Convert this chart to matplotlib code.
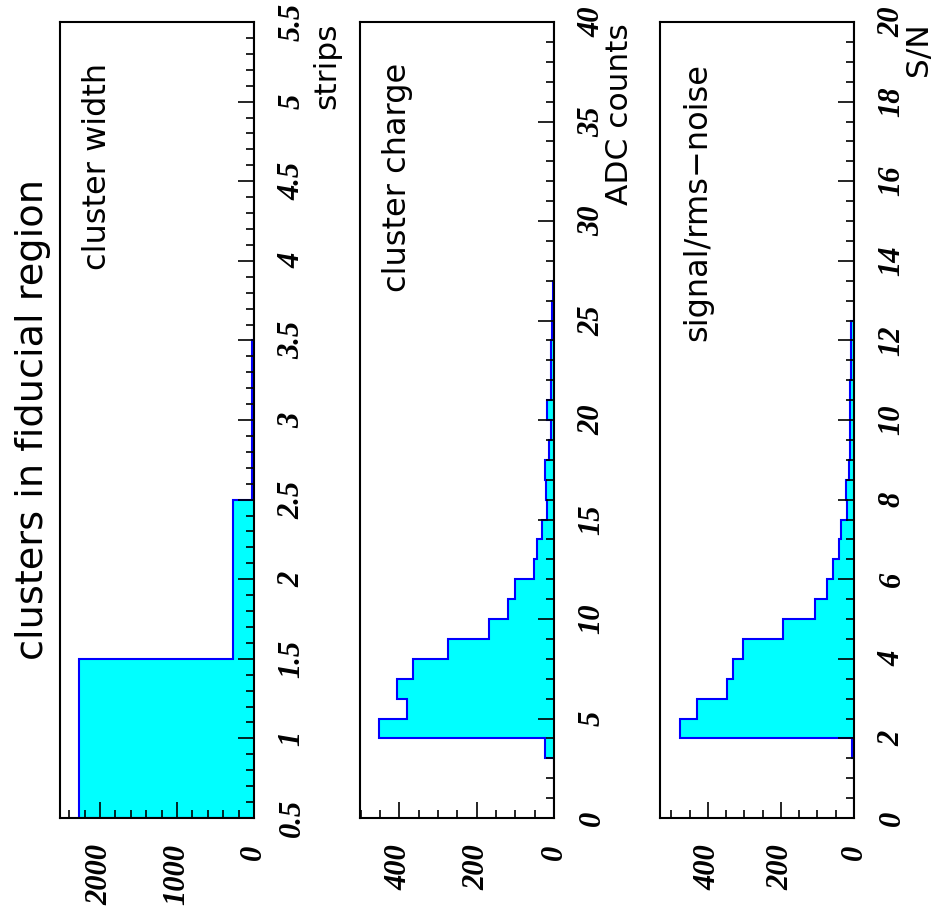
import numpy as np
import matplotlib.pyplot as plt
from matplotlib.ticker import MultipleLocator, FuncFormatter

# cluster width histogram (strips)
width_edges = [0.5, 1.5, 2.5, 3.5, 4.5, 5.5]
width_counts = [2270, 277, 20, 0, 0]

# cluster charge histogram (ADC counts), bins of 1 from 0 to 40
charge_counts = [0, 0, 1, 23, 452, 381, 407, 365, 275, 167,
                 120, 102, 51, 45, 30, 19, 21, 24, 12, 7,
                 17, 7, 7, 7, 4, 4, 2, 1, 1, 1,
                 1, 1, 1, 1, 1, 1, 0, 0, 0, 0]
charge_edges = np.arange(0, 40.5, 1)

# signal / rms-noise histogram, bins of 0.5 from 0 to 20
sn_counts = [0, 0, 0, 5, 477, 430, 349, 331, 305, 194,
             106, 75, 57, 40, 35, 20, 23, 14, 10, 10,
             10, 10, 7, 7, 8, 1, 1, 1, 1, 1,
             1, 1, 1, 1, 0, 0, 0, 0, 0, 0]
sn_edges = np.arange(0, 20.25, 0.5)

plt.rcParams['font.family'] = 'Liberation Serif'
plt.rcParams['font.style'] = 'italic'
plt.rcParams['font.weight'] = 'bold'

sans = dict(family='DejaVu Sans', style='normal', weight='normal')

fig = plt.figure(figsize=(9.37, 9.22), dpi=100)


def panel(left, edges, counts, cmax, cmaj, cmin, bmaj, bmin, title, xlabel, xlab_pos):
    ax = fig.add_axes([left, 0.1128, 0.2070, 0.8633])
    ax.stairs(counts, edges, orientation='horizontal', fill=True,
              facecolor='#00ffff', edgecolor='#0000ff', linewidth=1.5)
    ax.set_xlim(cmax, 0)
    ax.set_ylim(edges[0], edges[-1])

    ax.xaxis.set_major_locator(MultipleLocator(cmaj))
    ax.xaxis.set_minor_locator(MultipleLocator(cmin))
    ax.yaxis.set_major_locator(MultipleLocator(bmaj))
    ax.yaxis.set_minor_locator(MultipleLocator(bmin))
    fmt = FuncFormatter(lambda v, p: '%g' % v)
    ax.xaxis.set_major_formatter(fmt)
    ax.yaxis.set_major_formatter(fmt)

    ax.yaxis.tick_right()
    ax.tick_params(axis='y', which='both', direction='in', right=True, left=False,
                   labelright=True, labelleft=False, pad=17, labelsize=22,
                   labelrotation=90, width=1.2)
    ax.tick_params(axis='x', which='both', direction='in', bottom=True, top=False,
                   pad=19, labelsize=22, labelrotation=90, width=1.2)
    ax.tick_params(which='major', length=11.5)
    ax.tick_params(which='minor', length=5.5)
    plt.setp(ax.get_yticklabels(), va='center')

    for s in ax.spines.values():
        s.set_linewidth(1.5)

    ax.text(0.113, 0.9485, title, transform=ax.transAxes, rotation=90,
            ha='left', va='top', fontsize=23, **sans)
    ax.text(xlab_pos, 0.999, xlabel, transform=ax.transAxes, rotation=90,
            ha='left', va='top', fontsize=22.5, **sans)
    return ax


panel(0.0640, width_edges, width_counts, 2520, 1000, 200, 0.5, 0.1,
      'cluster width', 'strips', 1.30)
panel(0.3842, charge_edges, charge_counts, 502, 200, 50, 5, 1,
      'cluster charge', 'ADC counts', 1.265)
panel(0.7044, sn_edges, sn_counts, 531, 200, 50, 2, 0.5,
      'signal/rms\u2212noise', 'S/N', 1.26)

fig.text(33 / 937, 1 - 420 / 922, 'clusters in fiducial region', rotation=90,
         ha='center', va='center', fontsize=27.5, **sans)

fig.savefig('out.png', dpi=100)
